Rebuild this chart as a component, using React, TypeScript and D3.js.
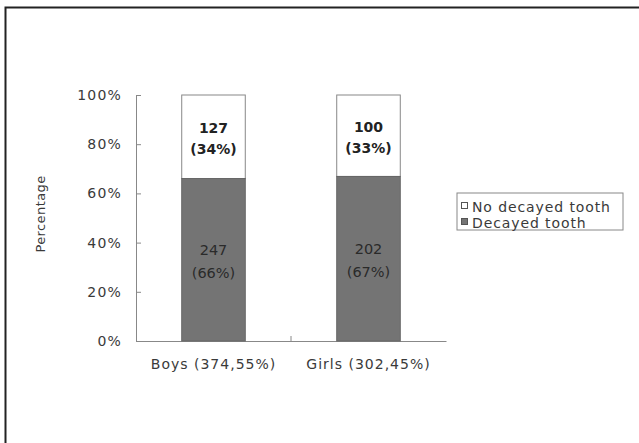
import { useEffect, useRef } from 'react';
import * as d3 from 'd3';

const categories = ['Boys (374,55%)', 'Girls (302,45%)'];
const decayed = [247, 202];
const noDecayed = [127, 100];
const decayedPct = ['66%', '67%'];
const noDecayedPct = ['34%', '33%'];
const yTicks = [0, 0.2, 0.4, 0.6, 0.8, 1];
const legendLabels = ['No decayed tooth', 'Decayed tooth'];

const W = 639;
const H = 443;
const DARK = '#747474';
const FONT = '"DejaVu Sans", Verdana, sans-serif';
const TXT = '#3a3a3a';

function App() {
  const svgRef = useRef<SVGSVGElement>(null);

  useEffect(() => {
    const svg = d3.select(svgRef.current).attr('width', W).attr('height', H);
    svg.selectAll('*').remove();

    svg.append('rect').attr('width', W).attr('height', H).attr('fill', '#fff');

    // outer frame (only top and left edges visible)
    svg.append('path')
      .attr('d', `M5.5,${H} V7.5 H${W}`)
      .attr('fill', 'none')
      .attr('stroke', '#222')
      .attr('stroke-width', 2);

    const left = 136;
    const right = 446;
    const top = 95;
    const bottom = 341;

    const x = d3.scaleBand().domain(categories).range([left, right]).paddingInner(0.59).paddingOuter(0.295);
    const y = d3.scaleLinear().domain([0, 1]).range([bottom, top]);

    const g = svg.append('g').style('font-family', FONT);

    // y axis
    const yAxis = g.append('g')
      .attr('transform', `translate(${left},0)`)
      .call(d3.axisLeft(y).tickValues(yTicks).tickSize(-5).tickPadding(14).tickFormat(d3.format('.0%')));
    yAxis.select('.domain').attr('stroke', '#888');
    yAxis.selectAll('.tick line').attr('stroke', '#888');
    yAxis.selectAll('.tick text').attr('fill', TXT).style('font-size', '14px')
      .style('letter-spacing', '1.2px').style('font-family', FONT);

    // x axis
    const xAxis = g.append('g')
      .attr('transform', `translate(0,${bottom})`)
      .call(d3.axisBottom(x).tickSize(0).tickPadding(18));
    xAxis.select('.domain').attr('stroke', '#888');
    xAxis.selectAll('.tick text').attr('fill', TXT).style('font-size', '14px')
      .style('letter-spacing', '1px').style('font-family', FONT);
    const mid = (x(categories[0])! + x.bandwidth() + x(categories[1])!) / 2;
    g.append('line')
      .attr('x1', mid).attr('x2', mid)
      .attr('y1', bottom).attr('y2', bottom - 5)
      .attr('stroke', '#888');

    categories.forEach((c, i) => {
      const total = decayed[i] + noDecayed[i];
      const split = y(decayed[i] / total);
      const bx = x(c)!;
      const bw = x.bandwidth();
      g.append('rect')
        .attr('x', bx).attr('y', y(1))
        .attr('width', bw).attr('height', split - y(1))
        .attr('fill', '#fff').attr('stroke', '#888');
      g.append('rect')
        .attr('x', bx).attr('y', split)
        .attr('width', bw).attr('height', y(0) - split)
        .attr('fill', DARK).attr('stroke', '#666');

      const cx = bx + bw / 2;
      const tMid = (y(1) + split) / 2;
      const bMid = (split + y(0)) / 2;
      g.append('text').attr('x', cx).attr('y', tMid - 4).attr('text-anchor', 'middle')
        .style('font-size', '14px').style('font-weight', 'bold').attr('fill', '#222')
        .text(String(noDecayed[i]));
      g.append('text').attr('x', cx).attr('y', tMid + 17).attr('text-anchor', 'middle')
        .style('font-size', '14px').style('font-weight', 'bold').attr('fill', '#222')
        .text(`(${noDecayedPct[i]})`);
      g.append('text').attr('x', cx).attr('y', bMid - 5).attr('text-anchor', 'middle')
        .style('font-size', '14.5px').attr('fill', '#2a2a2a')
        .text(String(decayed[i]));
      g.append('text').attr('x', cx).attr('y', bMid + 18).attr('text-anchor', 'middle')
        .style('font-size', '14.5px').attr('fill', '#2a2a2a')
        .text(`(${decayedPct[i]})`);
    });

    // y axis title
    g.append('text')
      .attr('transform', `translate(45,214) rotate(-90)`)
      .attr('text-anchor', 'middle')
      .style('font-size', '13px')
      .style('letter-spacing', '0.4px')
      .attr('fill', TXT)
      .text('Percentage');

    // legend
    const lg = g.append('g').attr('transform', 'translate(457,193)');
    lg.append('rect').attr('width', 166).attr('height', 37).attr('fill', '#fff').attr('stroke', '#888');
    legendLabels.forEach((l, i) => {
      const ly = 14 + i * 16;
      lg.append('rect')
        .attr('x', 4.5).attr('y', ly - 4.5).attr('width', 6).attr('height', 6)
        .attr('fill', i === 0 ? '#fff' : DARK).attr('stroke', '#555');
      lg.append('text').attr('x', 15).attr('y', ly + 4.5)
        .style('font-size', '14px').style('letter-spacing', '0.9px')
        .attr('fill', TXT).text(l);
    });
  }, []);

  return (
    <div style={{ position: 'absolute', left: 0, top: 0 }}>
      <svg ref={svgRef}></svg>
    </div>
  );
}

export default App;
